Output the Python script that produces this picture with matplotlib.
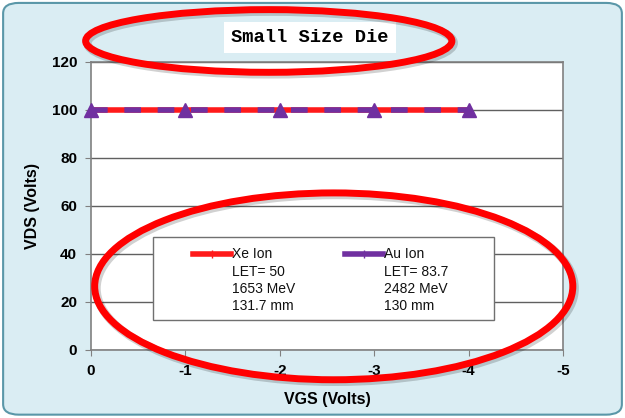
import matplotlib
matplotlib.use("Agg")
import matplotlib.pyplot as plt
from matplotlib.patches import Ellipse, FancyBboxPatch, Rectangle
from matplotlib.lines import Line2D

# data
vgs = [0, -1, -2, -3, -4]
xe_vds = [100, 100, 100, 100, 100]
au_vds = [100, 100, 100, 100, 100]
xe_label = ["Xe Ion", "LET= 50", "1653 MeV", "131.7 mm"]
au_label = ["Au Ion", "LET= 83.7", "2482 MeV", "130 mm"]
x_ticks = [0, -1, -2, -3, -4, -5]
y_ticks = [0, 20, 40, 60, 80, 100, 120]

plt.rcParams['font.family'] = ['Liberation Sans', 'DejaVu Sans']

fig = plt.figure(figsize=(6.25, 4.18), dpi=100, facecolor="white")

# light blue rounded panel behind everything
panel = FancyBboxPatch((0.005, 0.008), 0.99, 0.985, boxstyle="round,pad=0,rounding_size=0.025",
                       transform=fig.transFigure, facecolor="#daedf3", edgecolor="#5a97a8",
                       linewidth=1.5, zorder=-5)
fig.patches.append(panel)

ax = fig.add_axes([0.1456, 0.1627, 0.7552, 0.689])
ax.set_zorder(2)
ax.set_facecolor("white")

ax.plot(vgs, xe_vds, color="#ff1a1a", linewidth=4, marker="|", markersize=6, zorder=3)
ax.plot(vgs, au_vds, color="#7030a0", linewidth=4, dashes=(3, 3), marker="^",
        markersize=10, zorder=4, clip_on=False)

ax.set_xlim(0, -5)
ax.set_ylim(0, 120)
ax.set_xticks(x_ticks)
ax.set_yticks(y_ticks)
ax.set_xticklabels([str(t) for t in x_ticks], fontweight="bold", fontsize=11)
ax.set_yticklabels([str(t) for t in y_ticks], fontweight="bold", fontsize=11)
ax.tick_params(axis="both", direction="out", length=4, color="#808080", pad=6)
ax.yaxis.grid(True, color="#606060", linewidth=1)
ax.set_axisbelow(True)
for sp in ax.spines.values():
    sp.set_color("#808080")
    sp.set_linewidth(1.2)

ax.set_xlabel("VGS (Volts)", fontweight="bold", fontsize=11.5, labelpad=10)
ax.set_ylabel("VDS (Volts)", fontweight="bold", fontsize=11.5, labelpad=8)

# legend box drawn by hand so the key sits on the first line
ax.add_patch(Rectangle((0.131, 0.104), 0.723, 0.288, transform=ax.transAxes,
                       facecolor="white", edgecolor="#707070", linewidth=1, zorder=5))
line_y = [0.334, 0.271, 0.212, 0.153]
for lbl, color, x0 in [(xe_label, "#ff1a1a", 0.216), (au_label, "#7030a0", 0.539)]:
    ax.add_line(Line2D([x0, x0 + 0.04, x0 + 0.08], [line_y[0]] * 3, transform=ax.transAxes,
                       color=color, linewidth=4, marker="|", markersize=6, markevery=[1],
                       zorder=6))
    for i, s in enumerate(lbl):
        ax.text(x0 + 0.082, line_y[i], s, transform=ax.transAxes, fontsize=10,
                va="center", ha="left", color="#111111", zorder=6)

# title in typewriter font on a white strip
fig.text(0.496, 0.911, "Small Size Die", family=["Liberation Mono", "DejaVu Sans Mono"],
         fontweight="bold", fontsize=13.5, ha="center", va="center", zorder=7,
         bbox=dict(facecolor="white", edgecolor="none", pad=5))

# red highlight ellipses with soft shadow
for cx, cy, w, h in [(0.430, 0.902, 0.586, 0.150), (0.534, 0.315, 0.765, 0.447)]:
    fig.patches.append(Ellipse((cx + 0.003, cy - 0.005), w, h, transform=fig.transFigure,
                               fill=False, edgecolor="#000000", alpha=0.18, linewidth=6, zorder=8))
    fig.patches.append(Ellipse((cx, cy), w, h, transform=fig.transFigure,
                               fill=False, edgecolor="#ff0000", linewidth=5, zorder=9))

fig.savefig("out.png", dpi=100, facecolor=fig.get_facecolor())
